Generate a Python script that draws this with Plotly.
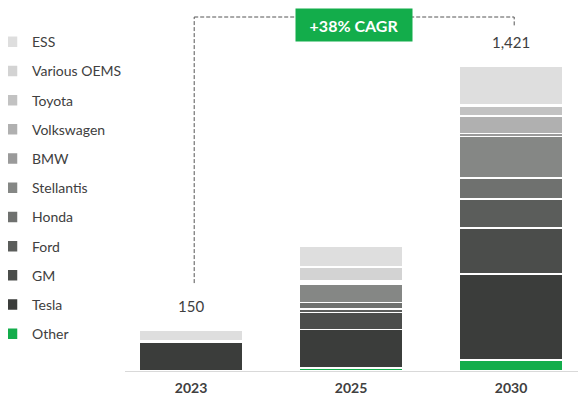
import plotly.graph_objects as go

years = ["2023", "2025", "2030"]
series_names = ["Other", "Tesla", "GM", "Ford", "Honda", "Stellantis", "BMW",
                "Volkswagen", "Toyota", "Various OEMS", "ESS"]
other = [0, 14, 51]
tesla = [133, 180, 401]
gm = [7, 80, 215]
ford = [0, 16, 135]
honda = [0, 30, 98]
stellantis = [0, 84, 194]
bmw = [0, 5, 14]
volkswagen = [0, 5, 82]
toyota = [0, 6, 44]
various_oems = [0, 65, 7]
ess = [52, 95, 180]
total_labels = ["150", "", "1,421"]
cagr_label = "+38% CAGR"

values = [other, tesla, gm, ford, honda, stellantis, bmw, volkswagen, toyota, various_oems, ess]
colors = ["#13ad4b", "#3b3d3b", "#4b4d4b", "#5b5d5b", "#6f716f", "#858785",
          "#9a9a9a", "#b0b0b0", "#c2c2c2", "#d3d3d3", "#dedede"]

FONT = "Lato"
fig = go.Figure()
n = len(series_names)
for i, (name, vals, col) in enumerate(zip(series_names, values, colors)):
    fig.add_trace(go.Bar(
        x=years, y=vals, name=name, legendgroup=name, legendrank=100 + (n - i),
        marker=dict(color=col, line=dict(color="white", width=1.5)),
        width=0.65, hoverinfo="name+y",
    ))

totals = [sum(v[i] for v in values) for i in range(len(years))]
for i, (tot, lab) in enumerate(zip(totals, total_labels)):
    if lab:
        fig.add_annotation(x=i, y=tot, text=lab, showarrow=False, yanchor="bottom",
                           yshift=13, font=dict(family=FONT, size=15, color="#404040"))

conn_y = 1651
tick_y = 1612
left_bottom = 410
off = 0.02
dash = dict(color="#555555", width=1, dash="4px,2px")
fig.add_shape(type="line", xref="x", yref="y", x0=off, x1=off, y0=left_bottom, y1=conn_y, line=dash)
fig.add_shape(type="line", xref="x", yref="y", x0=off, x1=2 + off, y0=conn_y, y1=conn_y, line=dash)
fig.add_shape(type="line", xref="x", yref="y", x0=2 + off, x1=2 + off, y0=tick_y, y1=conn_y, line=dash)
fig.add_annotation(x=1, y=1, xref="x", yref="paper", yanchor="top", xshift=3,
                   text="<b>" + cagr_label + "</b>",
                   showarrow=False, font=dict(family=FONT, size=16, color="white"),
                   bgcolor="#13ad4b", width=112, height=28, borderpad=2)

fig.update_layout(
    width=586, height=405,
    margin=dict(l=117, r=13, t=0, b=42, autoexpand=False),
    barmode="stack",
    plot_bgcolor="white", paper_bgcolor="white",
    font=dict(family=FONT, size=14, color="#404040"),
    showlegend=True,
    legend=dict(x=-133 / 456, xanchor="left", y=0.95, yanchor="top",
                traceorder="grouped", tracegroupgap=8,
                font=dict(family=FONT, size=14, color="#404040"),
                bgcolor="rgba(0,0,0,0)"),
)
fig.update_xaxes(type="category", range=[-0.4125, 2.4375], showline=True,
                 linecolor="#d9d9d9", linewidth=1, ticks="", showgrid=False,
                 tickfont=dict(family=FONT, size=14, color="#404040", weight="bold"),
                 ticklabelstandoff=4)
fig.update_yaxes(range=[0, 1693], visible=False, showgrid=False)

fig.write_html("out.html")
